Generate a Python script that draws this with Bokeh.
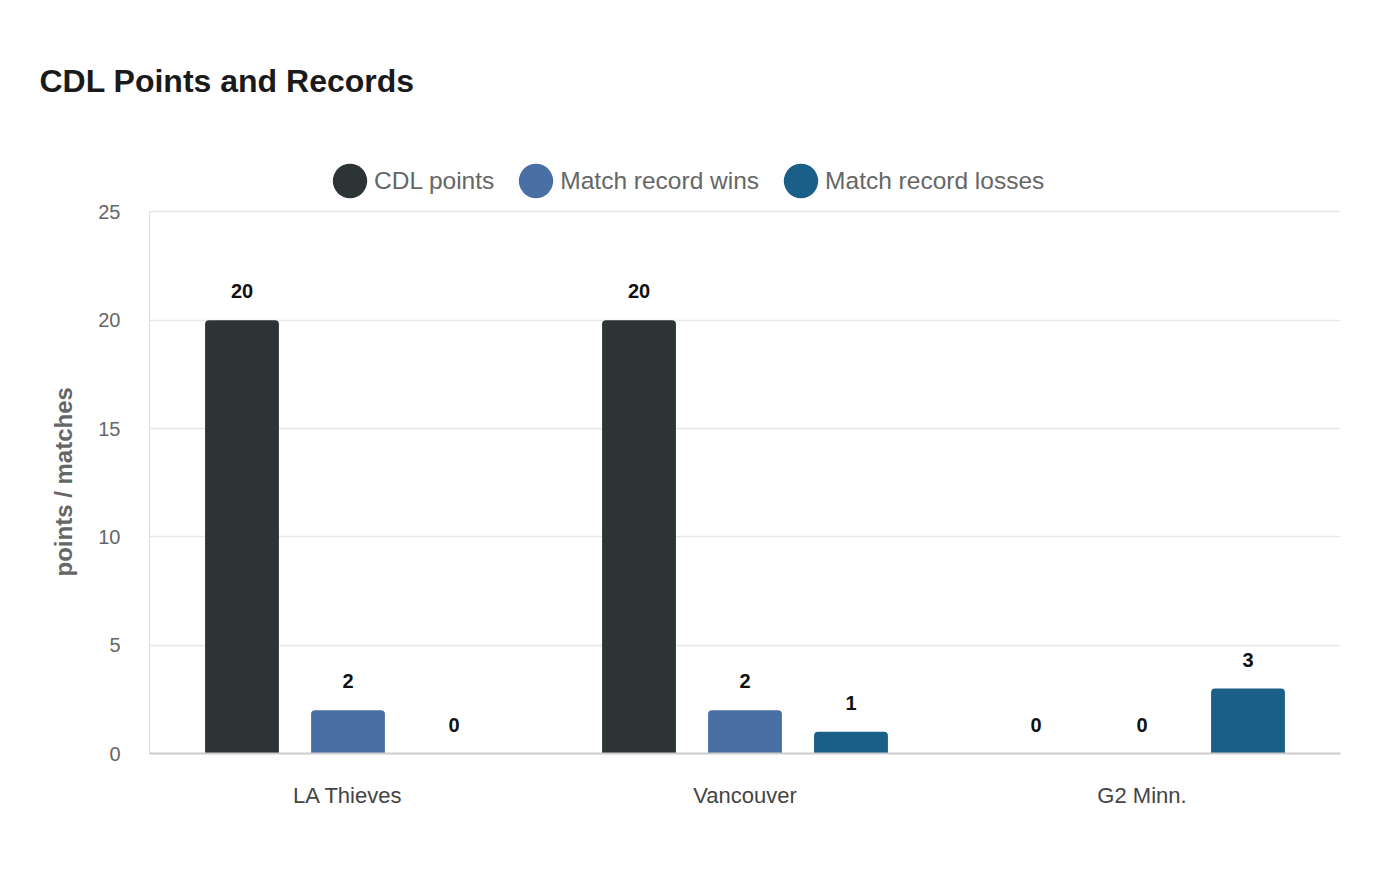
from bokeh.embed import file_html
from bokeh.resources import INLINE
from bokeh.core.properties import value
from bokeh.models import (ColumnDataSource, FactorRange, Range1d, Legend, LegendItem,
                          LabelSet, SingleIntervalTicker, Title)
from bokeh.plotting import figure
from bokeh.transform import dodge

teams = ["LA Thieves", "Vancouver", "G2 Minn."]
cdl_points = [20, 20, 0]
match_wins = [2, 2, 0]
match_losses = [0, 1, 3]

series_names = ["CDL points", "Match record wins", "Match record losses"]
series_keys = ["points", "wins", "losses"]
colors = ["#2d3436", "#4a6fa5", "#1a5f87"]

FONT = "Liberation Sans"

src = ColumnDataSource(data=dict(
    team=teams, points=cdl_points, wins=match_wins, losses=match_losses,
    points_txt=[str(v) for v in cdl_points],
    wins_txt=[str(v) for v in match_wins],
    losses_txt=[str(v) for v in match_losses],
))

# the frame reaches above 25 so the legend can sit inside it; axis/grid stop at 25
p = figure(x_range=FactorRange(*teams, range_padding=0), y_range=Range1d(0, 30.0),
           width=1388, height=868, output_backend="svg", toolbar_location=None,
           min_border_left=149, min_border_right=48, min_border_bottom=115,
           min_border_top=103)

p.title = Title(text="CDL Points and Records", text_font=FONT, text_font_size="32px",
                text_font_style="bold", text_color="#1a1a1a", offset=-110)
p.outline_line_color = None
p.background_fill_color = "white"
p.border_fill_color = "white"

offsets = [-0.267, 0.0, 0.267]
items = []
for name, key, col, off in zip(series_names, series_keys, colors, offsets):
    p.vbar(x=dodge("team", off, range=p.x_range), top=key, width=0.186, source=src,
           fill_color=col, line_color=None, border_radius=(4, 4, 0, 0))
    # round swatch used only for the legend (NaN point is never drawn)
    dot = p.ellipse(x=[teams[0]], y=[float("nan")], width=34, height=34,
                    width_units="screen", height_units="screen",
                    fill_color=col, line_color=None)
    items.append(LegendItem(label=name, renderers=[dot]))
    labels = LabelSet(x=dodge("team", off, range=p.x_range), y=key, text=key + "_txt",
                      source=src, text_align="center", text_baseline="alphabetic",
                      y_offset=22, text_font=value(FONT), text_font_size=value("20px"),
                      text_font_style="bold", text_color="#111111")
    p.add_layout(labels)

legend = Legend(items=items, orientation="horizontal", location=(179, 551),
                label_text_font=FONT, label_text_font_size="24.5px",
                label_text_color="#666666", glyph_width=43, glyph_height=43,
                spacing=20, label_standoff=3, border_line_color=None,
                background_fill_alpha=0, margin=0, padding=0)
p.add_layout(legend)

p.xaxis.axis_line_color = "#cccccc"
p.xaxis.axis_line_width = 2
p.xaxis.major_tick_line_color = None
p.xaxis.minor_tick_line_color = None
p.xaxis.major_label_text_font = FONT
p.xaxis.major_label_text_font_size = "22px"
p.xaxis.major_label_text_color = "#444444"
p.xaxis.major_label_standoff = 23
p.xgrid.grid_line_color = None

p.yaxis.ticker = SingleIntervalTicker(interval=5)
p.yaxis.bounds = (0, 25)
p.yaxis.axis_line_color = "#dddddd"
p.yaxis.major_tick_line_color = None
p.yaxis.minor_tick_line_color = None
p.yaxis.major_label_text_font = FONT
p.yaxis.major_label_text_font_size = "20px"
p.yaxis.major_label_text_color = "#666666"
p.yaxis.major_label_standoff = 23
p.ygrid.grid_line_color = "#e8e8e8"
p.ygrid.grid_line_width = 1.5

# y-axis title placed on its own so it centres on the 0-25 span, not the taller frame
ytitle = Title(text="points / matches", align="left", offset=177, standoff=38,
               text_font=FONT, text_font_size="24px", text_font_style="bold",
               text_color="#666666")
p.add_layout(ytitle, "left")

open("out.html", "w").write(file_html(p, INLINE))
